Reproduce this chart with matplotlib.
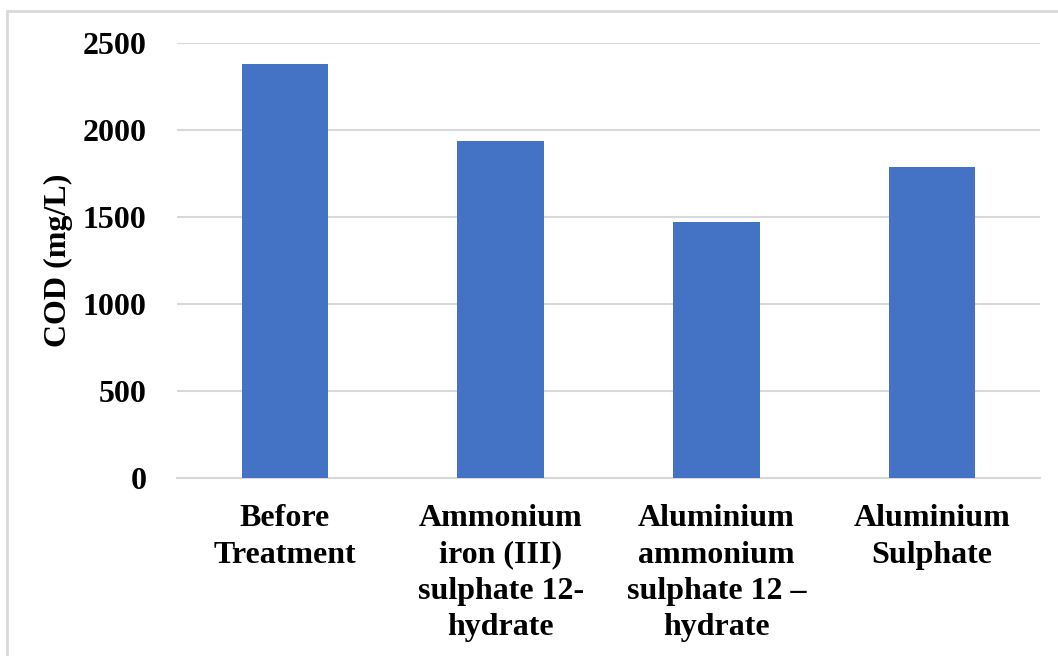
import matplotlib.pyplot as plt
from matplotlib.patches import Rectangle

plt.rcParams['font.family'] = ['Liberation Serif', 'DejaVu Serif']
plt.rcParams['font.weight'] = 'bold'

categories = ["Before\nTreatment",
              "Ammonium\niron (III)\nsulphate 12-\nhydrate",
              "Aluminium\nammonium\nsulphate 12 \u2013\nhydrate",
              "Aluminium\nSulphate"]
cod = [2378, 1935, 1473, 1789]
yticks = [0, 500, 1000, 1500, 2000, 2500]

fig = plt.figure(figsize=(10.58, 6.56), dpi=100)

# light grey frame round the chart
fig.patches.append(Rectangle((7 / 1058, -0.1), 1.2, 1 - 11 / 656 + 0.1,
                             transform=fig.transFigure, fill=False,
                             edgecolor='#d9d9d9', linewidth=2))

ax = fig.add_axes([177 / 1058, 1 - 478 / 656, (1040 - 177) / 1058, (478 - 43) / 656])
x = range(len(categories))
ax.bar(x, cod, width=0.4, color='#4472C4', zorder=3)

ax.set_ylim(0, 2500)
ax.set_xlim(-0.5, len(categories) - 0.5)
ax.set_yticks(yticks)
ax.set_yticklabels([str(v) for v in yticks], fontsize=23, fontweight='bold')
ax.set_xticks(list(x))
ax.set_xticklabels(categories, fontsize=23, fontweight='bold', linespacing=1.33)
ax.tick_params(axis='y', length=0, pad=22)
ax.tick_params(axis='x', length=0, pad=19)

ax.grid(axis='y', color='#d9d9d9', linewidth=1.5, zorder=0)
for s in ['top', 'right', 'left']:
    ax.spines[s].set_visible(False)
ax.spines['bottom'].set_color('#d9d9d9')
ax.spines['bottom'].set_linewidth(1.5)

ax.set_ylabel("COD (mg/L)", fontsize=23, fontweight='bold')
ax.yaxis.set_label_coords(-104 / 863, 0.5)

fig.savefig("out.png", dpi=100)
